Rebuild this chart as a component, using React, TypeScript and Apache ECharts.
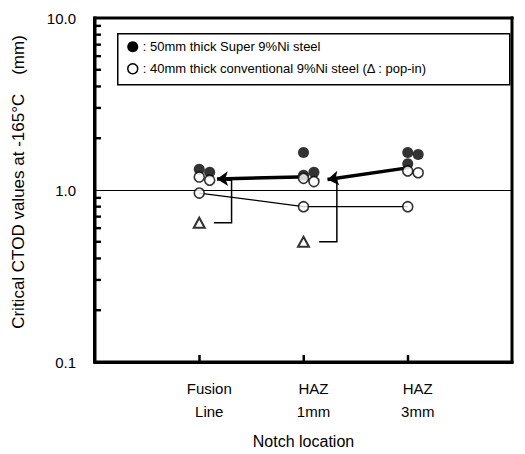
import React, { useEffect, useRef } from "react";
import * as echarts from "echarts";

// Notch locations (x positions 1,2,3 on the axis)
const categories = ["Fusion\nLine", "HAZ\n1mm", "HAZ\n3mm"];
const categoryX = [1, 2, 3];
const yTickLabels = ["0.1", "1.0", "10.0"];

// 50mm thick Super 9%Ni steel (filled circles) [x, CTOD mm]
const superSteel: [number, number][] = [
  [1, 1.32], [1.1, 1.27],
  [2, 1.65], [2, 1.22], [2.1, 1.27],
  [3, 1.65], [3.1, 1.61], [3, 1.42],
];

// 40mm thick conventional 9%Ni steel (open circles)
const convSteel: [number, number][] = [
  [1, 1.19], [1.1, 1.14], [1, 0.96],
  [2, 1.17], [2.1, 1.12], [2, 0.8],
  [3, 1.29], [3.1, 1.26], [3, 0.8],
];

// conventional steel trend (lowest values)
const convTrend: [number, number][] = [[1, 0.96], [2, 0.8], [3, 0.8]];

// pop-in values (open triangles)
const popIn: [number, number][] = [[1, 0.645], [2, 0.5]];

// thick arrows
const arrows: [number, number][][] = [
  [[1.95, 1.19], [1.17, 1.16]],
  [[2.98, 1.34], [2.23, 1.15]],
];

// brackets linking pop-in to the arrows
const brackets: [number, number][][] = [
  [[1.14, 0.645], [1.31, 0.645], [1.31, 1.14], [1.26, 1.14]],
  [[2.15, 0.5], [2.32, 0.5], [2.32, 1.14], [2.27, 1.14]],
];

// minor log ticks on the left axis
const minorTicks = [0.2, 0.3, 0.4, 0.5, 0.6, 0.7, 0.8, 0.9, 2, 3, 4, 5, 6, 7, 8, 9];

const X_MIN = 0, X_MAX = 4, Y_MIN = 0.1, Y_MAX = 10;
const FONT = "'Liberation Sans', Arial, sans-serif";

export default function App() {
  const ref = useRef<HTMLDivElement>(null);
  useEffect(() => {
    if (!ref.current) return;
    const chart = echarts.init(ref.current, null, { renderer: "svg" });
    chart.setOption({
      animation: false,
      backgroundColor: "#fff",
      textStyle: { fontFamily: FONT, color: "#000" },
      grid: { left: 95, right: 4, top: 18, bottom: 91, show: false },
      xAxis: {
        type: "value", min: X_MIN, max: X_MAX, interval: 1,
        axisLine: { show: false },
        axisTick: { show: false },
        splitLine: { show: false },
        axisLabel: {
          color: "#000", fontSize: 15, fontFamily: FONT, lineHeight: 23, margin: 15,
          padding: [0, 0, 0, 20],
          formatter: (v: number) => (v >= 1 && v <= 3 ? categories[Math.round(v) - 1] : ""),
        },
        name: "Notch location", nameLocation: "middle", nameGap: 71,
        nameTextStyle: { color: "#000", fontSize: 16, fontFamily: FONT },
      },
      yAxis: {
        type: "log", logBase: 10, min: Y_MIN, max: Y_MAX,
        axisLine: { show: false },
        axisTick: { show: false },
        splitLine: { show: true, lineStyle: { color: "#000", width: 1.2 } },
        axisLabel: {
          color: "#000", fontSize: 15, fontFamily: FONT, margin: 19,
          formatter: (v: number) => yTickLabels[Math.round(Math.log10(v)) + 1] ?? "",
        },
      },
      series: [
        {
          // plot frame as filled bands, placed through the axes' scales
          type: "custom", data: [[X_MIN, Y_MIN, X_MAX, Y_MAX]], encode: { x: [0, 2], y: [1, 3] },
          clip: false, silent: true, z: 10,
          renderItem: (_p: any, api: any) => {
            const bl = api.coord([X_MIN, Y_MIN]);
            const tr = api.coord([X_MAX, Y_MAX]);
            const w = tr[0] - bl[0];
            const h = bl[1] - tr[1];
            const fill = { fill: "#000" };
            const children: any[] = [
              { type: "rect", shape: { x: bl[0] - 1.5, y: tr[1] - 1.5, width: w + 3, height: 3 }, style: fill },
              { type: "rect", shape: { x: bl[0] - 1.5, y: bl[1] - 1.5, width: w + 3, height: 3.5 }, style: fill },
              { type: "rect", shape: { x: bl[0] - 2, y: tr[1] - 1.5, width: 3.5, height: h + 3 }, style: fill },
              { type: "rect", shape: { x: tr[0] - 1.5, y: tr[1] - 1.5, width: 3, height: h + 3 }, style: fill },
            ];
            categoryX.forEach((x) => {
              const p = api.coord([x, Y_MIN]);
              children.push({ type: "rect", shape: { x: p[0] - 1, y: p[1] - 7, width: 2.5, height: 7 }, style: fill });
            });
            minorTicks.forEach((v) => {
              const p = api.coord([X_MIN, v]);
              children.push({ type: "rect", shape: { x: p[0], y: p[1] - 1.2, width: 6, height: 2.4 }, style: fill });
            });
            return { type: "group", children };
          },
        },
        { type: "line", data: convTrend, showSymbol: false, symbol: "none", lineStyle: { color: "#000", width: 1.3 }, z: 2 },
        { type: "lines", coordinateSystem: "cartesian2d", polyline: true, data: brackets.map((c) => ({ coords: c })), lineStyle: { color: "#000", width: 1.5, opacity: 1 }, z: 2 },
        { type: "lines", coordinateSystem: "cartesian2d", data: arrows.map((c) => ({ coords: c })), symbol: ["none", "arrow"], symbolSize: 11, lineStyle: { color: "#000", width: 3.5, opacity: 1 }, z: 3 },
        { type: "scatter", data: superSteel, symbol: "circle", symbolSize: 11, itemStyle: { color: "#000" }, z: 4 },
        { type: "scatter", data: convSteel, symbol: "circle", symbolSize: 10, itemStyle: { color: "#fff", borderColor: "#000", borderWidth: 1.6 }, z: 5 },
        { type: "scatter", data: popIn, symbol: "triangle", symbolSize: [11, 10], itemStyle: { color: "#fff", borderColor: "#000", borderWidth: 2 }, z: 5 },
      ],
      graphic: [
        {
          type: "text", x: 18, y: 182, rotation: Math.PI / 2, z: 100,
          style: { text: "Critical CTOD values at -165\u00B0C    (mm)", fontSize: 17, fontFamily: FONT, fill: "#000", align: "center", verticalAlign: "middle" },
        },
        {
          type: "group", left: 117, top: 33, z: 100,
          children: [
            { type: "rect", shape: { x: 0, y: 0, width: 392, height: 51 }, style: { fill: "#fff", stroke: "#000", lineWidth: 1.5 } },
            { type: "circle", shape: { cx: 15, cy: 13, r: 5.5 }, style: { fill: "#000" } },
            { type: "text", x: 25, y: 13, style: { text: ": 50mm thick Super 9%Ni steel", fontSize: 13, fontFamily: FONT, fill: "#000", verticalAlign: "middle" } },
            { type: "circle", shape: { cx: 15, cy: 35, r: 5 }, style: { fill: "#fff", stroke: "#000", lineWidth: 1.5 } },
            { type: "text", x: 25, y: 35, style: { text: ": 40mm thick conventional 9%Ni steel (\u0394 : pop-in)", fontSize: 13, fontFamily: FONT, fill: "#000", verticalAlign: "middle" } },
          ],
        },
      ],
    });
    return () => chart.dispose();
  }, []);
  return <div ref={ref} style={{ position: "fixed", left: 0, top: 0, width: 525, height: 454 }} />;
}
